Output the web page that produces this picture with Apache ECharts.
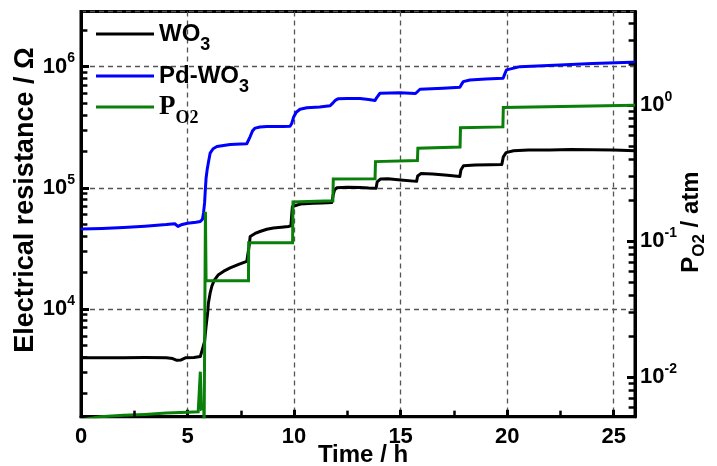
<!DOCTYPE html>
<html>
<head>
<meta charset="utf-8">
<script src="https://cdn.jsdelivr.net/npm/echarts@6/dist/echarts.min.js"></script>
<style>
  html, body { margin: 0; padding: 0; background: #fff; }
  #chart { width: 717px; height: 466px; }
</style>
</head>
<body>
<div id="chart"></div>
<script>
// Resistance of WO3 and Pd-WO3 films and the oxygen partial pressure over time

// WO3 resistance (ohm) vs time (h)
const wo3Time = [0, 1, 2, 3, 4, 4.3, 4.5, 4.7, 4.9, 5.3, 5.6, 5.67, 5.72, 5.8, 5.87, 5.95, 5.98, 6.06, 6.14, 6.25,
  6.45, 6.7, 7.0, 7.4, 7.78, 7.86, 7.9, 7.94, 8.17, 8.4, 8.72, 9.03, 9.4, 9.73, 9.85, 9.89, 9.92, 10.0, 10.3, 10.9,
  11.3, 11.77, 11.84, 11.9, 12.0, 12.5, 13.09, 13.5, 13.85, 13.9, 14.05, 14.4, 15.0, 15.75, 15.8, 15.95, 16.5, 17.2,
  17.78, 17.83, 17.95, 18.5, 19.2, 19.75, 19.82, 19.95, 20.3, 21, 22, 23, 24, 25, 26];
const wo3Resistance = [3950, 3960, 3950, 3970, 3960, 3900, 3770, 3800, 3950, 3980, 4050, 4100, 4800, 5400, 7190,
  9500, 11200, 13500, 15400, 17200, 19200, 20500, 21800, 23300, 24700, 25000, 34000, 39700, 42000, 43600, 45500,
  46600, 47300, 48000, 48500, 60000, 70000, 72400, 73500, 74500, 75000, 75500, 88000, 96000, 99900, 101000, 100600,
  99500, 99000, 112000, 118000, 119000, 116000, 113000, 125000, 131000, 130000, 127000, 124000, 140000, 152000,
  154000, 155000, 156000, 180000, 195000, 202000, 205000, 205000, 207000, 206000, 205000, 202000];

// Pd-WO3 resistance (ohm) vs time (h)
const pdTime = [0, 1, 2, 3, 4, 4.4, 4.55, 4.7, 5.0, 5.4, 5.6, 5.7, 5.75, 5.8, 5.83, 5.87, 5.92, 6.0, 6.06, 6.2,
  6.38, 7.0, 7.5, 7.78, 7.86, 7.94, 8.05, 8.17, 8.4, 8.72, 9.5, 9.81, 9.89, 9.97, 10.1, 10.28, 10.6, 11.2, 11.69,
  11.77, 11.84, 11.95, 12.06, 12.5, 13.09, 13.5, 13.8, 13.88, 14.03, 14.97, 15.7, 15.75, 15.91, 16.99, 17.78, 17.85,
  17.94, 18.25, 19.0, 19.81, 19.9, 19.97, 20.6, 22.48, 24.0, 25.83, 26];
const pdResistance = [45700, 46200, 47000, 48200, 49700, 50500, 48000, 49500, 51000, 52000, 52800, 55000, 62000,
  75000, 93000, 120000, 140600, 170000, 193000, 210000, 219000, 228000, 230000, 231000, 235000, 265000, 295000,
  311000, 318000, 320000, 321000, 322000, 340000, 380000, 420000, 445000, 458000, 465000, 475000, 478000, 505000,
  530000, 542000, 545000, 545000, 535000, 525000, 555000, 603000, 610000, 600000, 591000, 651000, 663000, 676000,
  710000, 752000, 776000, 790000, 802000, 880000, 940000, 1000000, 1030000, 1060000, 1087000, 1088000];

// Oxygen partial pressure (atm) vs time (h)
const po2Time = [0, 0.9, 2, 3, 4, 5, 5.5, 5.58, 5.6, 5.63, 5.65, 5.76, 5.78, 5.82, 5.84, 5.87, 7.86, 7.87, 9.93,
  9.95, 11.82, 11.84, 13.8, 13.82, 15.79, 15.81, 17.79, 17.81, 19.8, 19.82, 26];
const po2Pressure = [0.0048, 0.00508, 0.0052, 0.00528, 0.0054, 0.00548, 0.00552, 0.0056, 0.0109, 0.0109, 0.0058,
  0.0059, 0.0045, 0.0045, 0.164, 0.0508, 0.0508, 0.097, 0.097, 0.193, 0.197, 0.285, 0.287, 0.383, 0.39, 0.48, 0.49,
  0.68, 0.69, 0.96, 0.995];

// Axis extents and tick settings
const timeRange = [0, 26];
const timeInterval = 5;
const timeMinorTicks = [2.5, 7.5, 12.5, 17.5, 22.5];
const resistanceRange = [1291, 2.851e6];
const pressureRange = [0.005082, 4.875];

const SANS = 'Liberation Sans';
const SERIF = 'Liberation Serif';

const zip = (xs, ys) => xs.map((x, i) => [x, ys[i]]);

// minor ticks at 2..9 x 10^n inside each log axis range
function logMinorValues(range) {
  const out = [];
  const lo = Math.floor(Math.log10(range[0]));
  const hi = Math.ceil(Math.log10(range[1]));
  for (let d = lo; d <= hi; d++) {
    for (let m = 2; m <= 9; m++) {
      const v = m * Math.pow(10, d);
      if (v > range[0] && v < range[1]) out.push(v);
    }
  }
  return out;
}

// short tick segments expressed in data units (drawn by the axes' scales)
const TICK_T = 0.3;        // hours, inward length of y-axis minor ticks
const TICK_LOGR = 0.05;    // decades, inward length of x-axis minor ticks
const leftMinorSegs = logMinorValues(resistanceRange).map(v =>
  [{ coord: [timeRange[0], v] }, { coord: [timeRange[0] + TICK_T, v] }]);
const bottomMinorSegs = timeMinorTicks.map(t =>
  [{ coord: [t, resistanceRange[0]] }, { coord: [t, resistanceRange[0] * Math.pow(10, TICK_LOGR)] }]);
const rightMinorSegs = logMinorValues(pressureRange).map(v =>
  [{ coord: [timeRange[1] - TICK_T, v] }, { coord: [timeRange[1], v] }]);

function tickMarkLine(segs, width) {
  return {
    silent: true,
    animation: false,
    symbol: ['none', 'none'],
    label: { show: false },
    emphasis: { disabled: true },
    lineStyle: { color: '#000', width: width, type: 'solid', opacity: 1 },
    data: segs
  };
}

function powerLabel(value) {
  const e = Math.log10(value);
  const r = Math.round(e);
  if (Math.abs(e - r) > 1e-6) return '';
  return '{b|10}{p|' + r + '}';
}

const powerRich = {
  b: { fontFamily: SANS, fontWeight: 'bold', fontSize: 22, lineHeight: 30, color: '#000' },
  p: { fontFamily: SANS, fontWeight: 'bold', fontSize: 14, lineHeight: 14, verticalAlign: 'top', color: '#000' }
};

const legendRich = {
  m: { fontFamily: SANS, fontWeight: 'bold', fontSize: 24, lineHeight: 40, color: '#000' },
  s: { fontFamily: SANS, fontWeight: 'bold', fontSize: 18, verticalAlign: 'bottom', color: '#000' },
  pm: { fontFamily: SERIF, fontWeight: 'bold', fontSize: 27, lineHeight: 40, color: '#000' },
  ps: { fontFamily: SERIF, fontWeight: 'bold', fontSize: 18, verticalAlign: 'bottom', color: '#000' }
};

const legendLabels = {
  'WO3': '{m|WO}{s|3}',
  'Pd-WO3': '{m|Pd-WO}{s|3}',
  'PO2': '{pm|P}{ps|O2}'
};

function legendAt(name, top) {
  return {
    data: [name],
    left: 91,
    top: top,
    orient: 'vertical',
    icon: 'rect',
    itemWidth: 58,
    itemHeight: 3,
    selectedMode: false,
    formatter: n => legendLabels[n],
    textStyle: { rich: legendRich }
  };
}

const dashed = { color: '#555', type: [5, 4], width: 1.3 };

const option = {
  animation: false,
  backgroundColor: '#fff',
  grid: {
    left: 81, right: 82, top: 11.5, bottom: 49.3,
    containLabel: false,
    outerBoundsMode: 'none',
    show: true, borderColor: '#000', borderWidth: 3, backgroundColor: 'transparent'
  },
  legend: [
    legendAt('WO3', 17),
    legendAt('Pd-WO3', 59),
    legendAt('PO2', 88.5)
  ],
  xAxis: {
    type: 'value',
    min: timeRange[0],
    max: timeRange[1],
    interval: timeInterval,
    name: 'Time / h',
    nameLocation: 'middle',
    nameGap: 27,
    nameMoveOverlap: false,
    nameTextStyle: { fontFamily: SANS, fontWeight: 'bold', fontSize: 24, color: '#000', padding: [0, 0, 0, 10] },
    axisLine: { show: true, lineStyle: { color: '#000', width: 3 } },
    axisTick: { show: true, inside: true, length: 7, lineStyle: { color: '#000', width: 3 } },
    axisLabel: {
      fontFamily: SANS, fontWeight: 'bold', fontSize: 22, color: '#000', margin: 9,
      showMaxLabel: false
    },
    splitLine: { show: true, lineStyle: dashed }
  },
  yAxis: [
    {
      type: 'log',
      min: resistanceRange[0],
      max: resistanceRange[1],
      position: 'left',
      name: 'Electrical resistance / Ω',
      nameLocation: 'middle',
      nameRotate: 90,
      nameGap: 42,
      nameMoveOverlap: false,
      nameTextStyle: { fontFamily: SANS, fontWeight: 'bold', fontSize: 27, color: '#000', padding: [0, 0, 0, 28] },
      axisLine: { show: true, lineStyle: { color: '#000', width: 3 } },
      axisTick: { show: true, inside: true, length: 8, lineStyle: { color: '#000', width: 3 } },
      axisLabel: {
        formatter: powerLabel, rich: powerRich, margin: 6,
        showMinLabel: false, showMaxLabel: false
      },
      splitLine: { show: true, lineStyle: dashed }
    },
    {
      type: 'log',
      min: pressureRange[0],
      max: pressureRange[1],
      position: 'right',
      name: '{m|P}{s|O2}{m| / atm}',
      nameLocation: 'middle',
      nameRotate: 90,
      nameGap: 39,
      nameMoveOverlap: false,
      nameTextStyle: {
        padding: [0, 16, 0, 0],
        rich: {
          m: { fontFamily: SANS, fontWeight: 'bold', fontSize: 24, lineHeight: 34, color: '#000' },
          s: { fontFamily: SANS, fontWeight: 'bold', fontSize: 17, verticalAlign: 'bottom', color: '#000' }
        }
      },
      axisLine: { show: true, lineStyle: { color: '#000', width: 3 } },
      axisTick: { show: true, inside: true, length: 8, lineStyle: { color: '#000', width: 3 } },
      axisLabel: {
        formatter: powerLabel, rich: powerRich, margin: 5,
        showMinLabel: false, showMaxLabel: false
      },
      splitLine: { show: false }
    }
  ],
  series: [
    {
      name: 'WO3', type: 'line', yAxisIndex: 0, data: zip(wo3Time, wo3Resistance),
      showSymbol: false, symbol: 'none', color: '#000', z: 2,
      lineStyle: { color: '#000', width: 3, join: 'round' }, emphasis: { disabled: true },
      markLine: tickMarkLine(leftMinorSegs.concat(bottomMinorSegs), 2.5)
    },
    {
      name: 'Pd-WO3', type: 'line', yAxisIndex: 0, data: zip(pdTime, pdResistance),
      showSymbol: false, symbol: 'none', color: '#0000ff', z: 3,
      lineStyle: { color: '#0000ff', width: 3, join: 'round' }, emphasis: { disabled: true }
    },
    {
      name: 'PO2', type: 'line', yAxisIndex: 1, data: zip(po2Time, po2Pressure),
      showSymbol: false, symbol: 'none', color: '#0a800a', z: 4,
      lineStyle: { color: '#0a800a', width: 3, join: 'miter' }, emphasis: { disabled: true },
      markLine: tickMarkLine(rightMinorSegs, 2.5)
    }
  ]
};

const chart = echarts.init(document.getElementById('chart'), null, { renderer: 'canvas' });
chart.setOption(option);
</script>
</body>
</html>
